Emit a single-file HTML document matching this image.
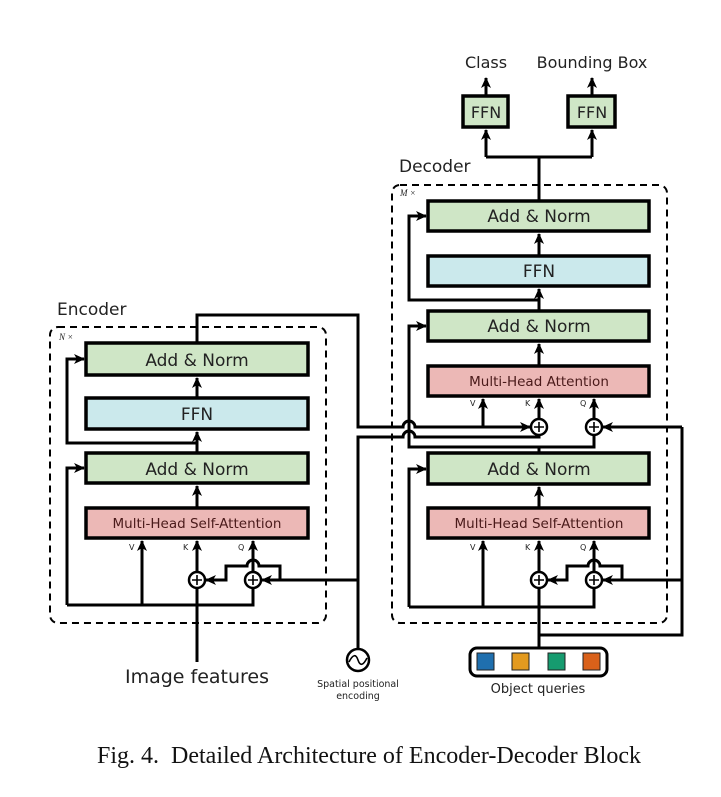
<!DOCTYPE html>
<html><head><style>
html,body{margin:0;padding:0;background:#fff}
svg{display:block}
.t{font-family:"DejaVu Sans","Liberation Sans",sans-serif;fill:#222}
</style></head><body>
<svg width="721" height="797" viewBox="0 0 721 797" xmlns="http://www.w3.org/2000/svg">
<defs>
<marker id="a" markerUnits="userSpaceOnUse" markerWidth="12" markerHeight="12" refX="10" refY="6" orient="auto">
<path d="M0,1 L11,6 L0,11 L3,6 Z" fill="#000"/>
</marker>
</defs>
<rect width="721" height="797" fill="#fff"/>
<g fill="none" stroke="#000" stroke-width="3">
<rect x="50" y="327" width="276" height="296" rx="8" stroke-dasharray="7,5" stroke-width="2"/>
<rect x="392" y="185" width="275" height="438" rx="8" stroke-dasharray="7,5" stroke-width="2"/>
</g>
<g stroke="#000" stroke-width="3.5">
<rect x="86" y="343" width="222" height="32" fill="#cfe6c6"/>
<rect x="86" y="398" width="222" height="31" fill="#cbe9ec"/>
<rect x="86" y="453" width="222" height="30" fill="#cfe6c6"/>
<rect x="86" y="508" width="222" height="30" fill="#ecb8b6"/>
<rect x="428" y="201" width="221" height="30" fill="#cfe6c6"/>
<rect x="428" y="256" width="221" height="30" fill="#cbe9ec"/>
<rect x="428" y="311" width="221" height="30" fill="#cfe6c6"/>
<rect x="428" y="366" width="221" height="30" fill="#ecb8b6"/>
<rect x="428" y="453" width="221" height="31" fill="#cfe6c6"/>
<rect x="428" y="508" width="221" height="30" fill="#ecb8b6"/>
<rect x="463" y="96" width="45" height="31" fill="#cfe6c6"/>
<rect x="568" y="96" width="47" height="31" fill="#cfe6c6"/>
</g>
<g class="t" text-anchor="middle" font-size="17" style="white-space:pre">
<text x="197" y="366">Add  &amp;  Norm</text>
<text x="197" y="420">FFN</text>
<text x="197" y="475">Add  &amp;  Norm</text>
<text x="197" y="528" font-size="13.5" fill="#4a1a1a">Multi-Head  Self-Attention</text>
<text x="539" y="222">Add  &amp;  Norm</text>
<text x="539" y="277">FFN</text>
<text x="539" y="332">Add  &amp;  Norm</text>
<text x="539" y="386" font-size="13.5" fill="#4a1a1a">Multi-Head  Attention</text>
<text x="539" y="475">Add  &amp;  Norm</text>
<text x="539" y="528" font-size="13.5" fill="#4a1a1a">Multi-Head  Self-Attention</text>
<text x="486" y="118" font-size="16">FFN</text>
<text x="592" y="118" font-size="16">FFN</text>
<text x="486" y="68" font-size="16">Class</text>
<text x="592" y="68" font-size="16">Bounding Box</text>
<text x="197" y="683" font-size="19">Image features</text>
<text x="358" y="687" font-size="9.5">Spatial  positional</text>
<text x="358" y="699" font-size="9.5">encoding</text>
<text x="538" y="693" font-size="13">Object  queries</text>
</g>
<g class="t" font-size="17">
<text x="57" y="315">Encoder</text>
<text x="399" y="172">Decoder</text>
</g>
<g class="t" font-size="9" font-style="italic" fill="#555">
<text x="59" y="340" font-family="Liberation Serif,serif">N ×</text>
<text x="400" y="196" font-family="Liberation Serif,serif">M ×</text>
</g>
<g class="t" font-size="8" fill="#333">
<text x="129" y="550">V</text><text x="183" y="550">K</text><text x="238" y="550">Q</text>
<text x="470" y="406">V</text><text x="525" y="406">K</text><text x="580" y="406">Q</text>
<text x="470" y="550">V</text><text x="525" y="550">K</text><text x="580" y="550">Q</text>
</g>
<g fill="none" stroke="#000" stroke-width="3" stroke-linejoin="miter">
<path d="M197,662 V589"/>
<path d="M197,573 V541" marker-end="url(#a)"/>
<path d="M197,508 V486" marker-end="url(#a)"/>
<path d="M197,453 V432" marker-end="url(#a)"/>
<path d="M197,398 V378" marker-end="url(#a)"/>
<path d="M67,605 H253 V589"/>
<path d="M142,605 V541" marker-end="url(#a)"/>
<path d="M253,573 V541" marker-end="url(#a)"/>
<path d="M67,605 V468 H84" marker-end="url(#a)"/>
<path d="M197,443 H67 V359 H84" marker-end="url(#a)"/>
<path d="M358,648 V437 H403 A6,6 0 0 1 415,437 H539 V436"/>
<path d="M358,580 H262" marker-end="url(#a)"/>
<path d="M280,580 V566 H259 A6,6 0 0 0 247,566 H226 V580 H206" marker-end="url(#a)"/>
<path d="M197,343 V315 H358 V427 H403 A6,6 0 0 1 415,427 H530" marker-end="url(#a)"/>
<path d="M483,427 V399" marker-end="url(#a)"/>
<path d="M539,420 V399" marker-end="url(#a)"/>
<path d="M594,420 V399" marker-end="url(#a)"/>
<path d="M539,366 V344" marker-end="url(#a)"/>
<path d="M539,311 V289" marker-end="url(#a)"/>
<path d="M539,256 V234" marker-end="url(#a)"/>
<path d="M539,300 H409 V216 H426" marker-end="url(#a)"/>
<path d="M539,453 V447 H594 V434"/>
<path d="M539,447 H409 V326 H426" marker-end="url(#a)"/>
<path d="M682,427 H603" marker-end="url(#a)"/>
<path d="M682,427 V635 H539"/>
<path d="M682,580 H603" marker-end="url(#a)"/>
<path d="M539,648 V589"/>
<path d="M539,573 V541" marker-end="url(#a)"/>
<path d="M539,508 V487" marker-end="url(#a)"/>
<path d="M409,607 H594 V589"/>
<path d="M483,607 V541" marker-end="url(#a)"/>
<path d="M594,573 V541" marker-end="url(#a)"/>
<path d="M409,607 V469 H426" marker-end="url(#a)"/>
<path d="M622,580 V566 H600 A6,6 0 0 0 588,566 H567 V580 H548" marker-end="url(#a)"/>
<path d="M539,201 V157"/>
<path d="M486,157 H592"/>
<path d="M486,157 V130" marker-end="url(#a)"/>
<path d="M592,157 V130" marker-end="url(#a)"/>
<path d="M486,96 V78" marker-end="url(#a)"/>
<path d="M592,96 V78" marker-end="url(#a)"/>
</g>
<g fill="#fff" stroke="#000" stroke-width="2.5">
<circle cx="197" cy="580" r="8"/><circle cx="253" cy="580" r="8"/>
<circle cx="539" cy="427" r="8"/><circle cx="594" cy="427" r="8"/>
<circle cx="539" cy="580" r="8"/><circle cx="594" cy="580" r="8"/>
<circle cx="358" cy="660" r="11"/>
</g>
<g stroke="#000" stroke-width="1.6">
<path d="M192,580h10M197,575v10M248,580h10M253,575v10M534,427h10M539,422v10M589,427h10M594,422v10M534,580h10M539,575v10M589,580h10M594,575v10"/>
<path d="M349,662 C353,654 356,654 358,660 C360,666 363,666 367,658" fill="none"/>
</g>
<rect x="470" y="648" width="137" height="28" rx="7" fill="#fff" stroke="#000" stroke-width="3"/>
<g stroke="#222" stroke-width="1">
<rect x="477" y="653" width="17" height="17" fill="#1f6fae"/>
<rect x="512" y="653" width="17" height="17" fill="#e39a1f"/>
<rect x="548" y="653" width="17" height="17" fill="#169b6f"/>
<rect x="583" y="653" width="17" height="17" fill="#d9611a"/>
</g>
<text x="369" y="763" text-anchor="middle" font-family="Liberation Serif,serif" font-size="24" fill="#111" style="white-space:pre">Fig. 4.  Detailed Architecture of Encoder-Decoder Block</text>
</svg>
</body></html>
